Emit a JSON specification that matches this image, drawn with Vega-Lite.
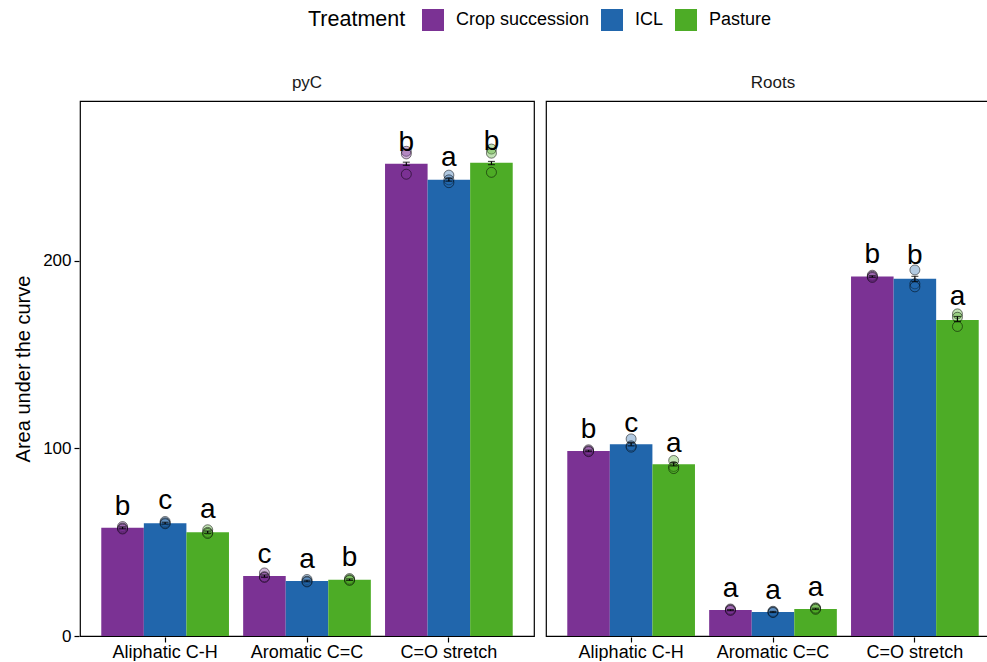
{
  "$schema": "https://vega.github.io/schema/vega-lite/v6.json",
  "padding": {"left": 13, "top": 9, "right": 0, "bottom": 0},
  "data": {"values": [
    {"kind": "s", "panel": "pyC", "band": "Aliphatic C-H", "treatment": "Crop succession", "mean": 57.6, "lo": 57.1, "hi": 58.1, "letter": "b", "ly": 64.4},
    {"kind": "s", "panel": "pyC", "band": "Aliphatic C-H", "treatment": "ICL", "mean": 60.1, "lo": 59.6, "hi": 60.6, "letter": "c", "ly": 67.9},
    {"kind": "s", "panel": "pyC", "band": "Aliphatic C-H", "treatment": "Pasture", "mean": 55.3, "lo": 54.7, "hi": 55.9, "letter": "a", "ly": 62.6},
    {"kind": "s", "panel": "pyC", "band": "Aromatic C=C", "treatment": "Crop succession", "mean": 31.9, "lo": 31.3, "hi": 32.5, "letter": "c", "ly": 38.7},
    {"kind": "s", "panel": "pyC", "band": "Aromatic C=C", "treatment": "ICL", "mean": 29.3, "lo": 28.9, "hi": 29.7, "letter": "a", "ly": 36.0},
    {"kind": "s", "panel": "pyC", "band": "Aromatic C=C", "treatment": "Pasture", "mean": 30.0, "lo": 29.6, "hi": 30.4, "letter": "b", "ly": 37.2},
    {"kind": "s", "panel": "pyC", "band": "C=O stretch", "treatment": "Crop succession", "mean": 251.6, "lo": 250.7, "hi": 252.4, "letter": "b", "ly": 258.5},
    {"kind": "s", "panel": "pyC", "band": "C=O stretch", "treatment": "ICL", "mean": 243.1, "lo": 242.3, "hi": 243.9, "letter": "a", "ly": 250.5},
    {"kind": "s", "panel": "pyC", "band": "C=O stretch", "treatment": "Pasture", "mean": 252.1, "lo": 251.1, "hi": 252.8, "letter": "b", "ly": 258.9},
    {"kind": "s", "panel": "Roots", "band": "Aliphatic C-H", "treatment": "Crop succession", "mean": 98.6, "lo": 98.2, "hi": 99.0, "letter": "b", "ly": 105.7},
    {"kind": "s", "panel": "Roots", "band": "Aliphatic C-H", "treatment": "ICL", "mean": 102.1, "lo": 101.3, "hi": 102.9, "letter": "c", "ly": 108.7},
    {"kind": "s", "panel": "Roots", "band": "Aliphatic C-H", "treatment": "Pasture", "mean": 91.5, "lo": 90.6, "hi": 92.4, "letter": "a", "ly": 98.0},
    {"kind": "s", "panel": "Roots", "band": "Aromatic C=C", "treatment": "Crop succession", "mean": 13.8, "lo": 13.5, "hi": 14.1, "letter": "a", "ly": 20.9},
    {"kind": "s", "panel": "Roots", "band": "Aromatic C=C", "treatment": "ICL", "mean": 12.8, "lo": 12.5, "hi": 13.1, "letter": "a", "ly": 19.5},
    {"kind": "s", "panel": "Roots", "band": "Aromatic C=C", "treatment": "Pasture", "mean": 14.4, "lo": 14.1, "hi": 14.8, "letter": "a", "ly": 21.3},
    {"kind": "s", "panel": "Roots", "band": "C=O stretch", "treatment": "Crop succession", "mean": 191.5, "lo": 191.1, "hi": 191.9, "letter": "b", "ly": 198.6},
    {"kind": "s", "panel": "Roots", "band": "C=O stretch", "treatment": "ICL", "mean": 190.3, "lo": 188.9, "hi": 191.6, "letter": "b", "ly": 198.2},
    {"kind": "s", "panel": "Roots", "band": "C=O stretch", "treatment": "Pasture", "mean": 168.4, "lo": 167.6, "hi": 170.2, "letter": "a", "ly": 176.1},

    {"kind": "p", "panel": "pyC", "band": "Aliphatic C-H", "treatment": "Crop succession", "value": 58.3},
    {"kind": "p", "panel": "pyC", "band": "Aliphatic C-H", "treatment": "Crop succession", "value": 57.5},
    {"kind": "p", "panel": "pyC", "band": "Aliphatic C-H", "treatment": "Crop succession", "value": 57.0},
    {"kind": "p", "panel": "pyC", "band": "Aliphatic C-H", "treatment": "ICL", "value": 61.0},
    {"kind": "p", "panel": "pyC", "band": "Aliphatic C-H", "treatment": "ICL", "value": 60.3},
    {"kind": "p", "panel": "pyC", "band": "Aliphatic C-H", "treatment": "ICL", "value": 59.8},
    {"kind": "p", "panel": "pyC", "band": "Aliphatic C-H", "treatment": "Pasture", "value": 56.6},
    {"kind": "p", "panel": "pyC", "band": "Aliphatic C-H", "treatment": "Pasture", "value": 55.2},
    {"kind": "p", "panel": "pyC", "band": "Aliphatic C-H", "treatment": "Pasture", "value": 54.6},
    {"kind": "p", "panel": "pyC", "band": "Aromatic C=C", "treatment": "Crop succession", "value": 33.6},
    {"kind": "p", "panel": "pyC", "band": "Aromatic C=C", "treatment": "Crop succession", "value": 31.6},
    {"kind": "p", "panel": "pyC", "band": "Aromatic C=C", "treatment": "Crop succession", "value": 31.2},
    {"kind": "p", "panel": "pyC", "band": "Aromatic C=C", "treatment": "ICL", "value": 30.1},
    {"kind": "p", "panel": "pyC", "band": "Aromatic C=C", "treatment": "ICL", "value": 29.2},
    {"kind": "p", "panel": "pyC", "band": "Aromatic C=C", "treatment": "ICL", "value": 28.8},
    {"kind": "p", "panel": "pyC", "band": "Aromatic C=C", "treatment": "Pasture", "value": 30.6},
    {"kind": "p", "panel": "pyC", "band": "Aromatic C=C", "treatment": "Pasture", "value": 30.0},
    {"kind": "p", "panel": "pyC", "band": "Aromatic C=C", "treatment": "Pasture", "value": 29.6},
    {"kind": "p", "panel": "pyC", "band": "C=O stretch", "treatment": "Crop succession", "value": 258.2},
    {"kind": "p", "panel": "pyC", "band": "C=O stretch", "treatment": "Crop succession", "value": 256.8},
    {"kind": "p", "panel": "pyC", "band": "C=O stretch", "treatment": "Crop succession", "value": 246.0},
    {"kind": "p", "panel": "pyC", "band": "C=O stretch", "treatment": "ICL", "value": 245.5},
    {"kind": "p", "panel": "pyC", "band": "C=O stretch", "treatment": "ICL", "value": 243.0},
    {"kind": "p", "panel": "pyC", "band": "C=O stretch", "treatment": "ICL", "value": 241.5},
    {"kind": "p", "panel": "pyC", "band": "C=O stretch", "treatment": "Pasture", "value": 259.4},
    {"kind": "p", "panel": "pyC", "band": "C=O stretch", "treatment": "Pasture", "value": 257.2},
    {"kind": "p", "panel": "pyC", "band": "C=O stretch", "treatment": "Pasture", "value": 247.0},
    {"kind": "p", "panel": "Roots", "band": "Aliphatic C-H", "treatment": "Crop succession", "value": 99.2},
    {"kind": "p", "panel": "Roots", "band": "Aliphatic C-H", "treatment": "Crop succession", "value": 98.6},
    {"kind": "p", "panel": "Roots", "band": "Aliphatic C-H", "treatment": "Crop succession", "value": 98.2},
    {"kind": "p", "panel": "Roots", "band": "Aliphatic C-H", "treatment": "ICL", "value": 105.0},
    {"kind": "p", "panel": "Roots", "band": "Aliphatic C-H", "treatment": "ICL", "value": 101.3},
    {"kind": "p", "panel": "Roots", "band": "Aliphatic C-H", "treatment": "ICL", "value": 100.6},
    {"kind": "p", "panel": "Roots", "band": "Aliphatic C-H", "treatment": "Pasture", "value": 93.5},
    {"kind": "p", "panel": "Roots", "band": "Aliphatic C-H", "treatment": "Pasture", "value": 90.3},
    {"kind": "p", "panel": "Roots", "band": "Aliphatic C-H", "treatment": "Pasture", "value": 89.2},
    {"kind": "p", "panel": "Roots", "band": "Aromatic C=C", "treatment": "Crop succession", "value": 14.4},
    {"kind": "p", "panel": "Roots", "band": "Aromatic C=C", "treatment": "Crop succession", "value": 14.0},
    {"kind": "p", "panel": "Roots", "band": "Aromatic C=C", "treatment": "Crop succession", "value": 13.6},
    {"kind": "p", "panel": "Roots", "band": "Aromatic C=C", "treatment": "ICL", "value": 13.2},
    {"kind": "p", "panel": "Roots", "band": "Aromatic C=C", "treatment": "ICL", "value": 12.8},
    {"kind": "p", "panel": "Roots", "band": "Aromatic C=C", "treatment": "ICL", "value": 12.5},
    {"kind": "p", "panel": "Roots", "band": "Aromatic C=C", "treatment": "Pasture", "value": 15.0},
    {"kind": "p", "panel": "Roots", "band": "Aromatic C=C", "treatment": "Pasture", "value": 14.7},
    {"kind": "p", "panel": "Roots", "band": "Aromatic C=C", "treatment": "Pasture", "value": 14.2},
    {"kind": "p", "panel": "Roots", "band": "C=O stretch", "treatment": "Crop succession", "value": 192.2},
    {"kind": "p", "panel": "Roots", "band": "C=O stretch", "treatment": "Crop succession", "value": 191.6},
    {"kind": "p", "panel": "Roots", "band": "C=O stretch", "treatment": "Crop succession", "value": 191.0},
    {"kind": "p", "panel": "Roots", "band": "C=O stretch", "treatment": "ICL", "value": 195.0},
    {"kind": "p", "panel": "Roots", "band": "C=O stretch", "treatment": "ICL", "value": 187.6},
    {"kind": "p", "panel": "Roots", "band": "C=O stretch", "treatment": "ICL", "value": 186.0},
    {"kind": "p", "panel": "Roots", "band": "C=O stretch", "treatment": "Pasture", "value": 171.6},
    {"kind": "p", "panel": "Roots", "band": "C=O stretch", "treatment": "Pasture", "value": 169.8},
    {"kind": "p", "panel": "Roots", "band": "C=O stretch", "treatment": "Pasture", "value": 164.9}
  ]},
  "facet": {"column": {"field": "panel", "type": "nominal", "sort": ["pyC", "Roots"],
    "header": {"title": null, "labelFontSize": 17, "labelPadding": 8, "labelColor": "#1a1a1a", "labelFont": "Liberation Sans"}}},
  "spacing": 10,
  "spec": {
    "width": 454,
    "height": 535,
    "encoding": {
      "x": {"field": "band", "type": "nominal", "sort": ["Aliphatic C-H", "Aromatic C=C", "C=O stretch"],
        "scale": {"paddingInner": 0.1, "paddingOuter": 0.15},
        "axis": {"title": null, "labelAngle": 0, "labelFontSize": 18, "labelColor": "black", "labelPadding": 1, "tickSize": 5, "tickColor": "black", "tickWidth": 1.2, "domain": false}},
      "xOffset": {"field": "treatment", "type": "nominal", "sort": ["Crop succession", "ICL", "Pasture"],
        "scale": {"paddingInner": 0, "paddingOuter": 0}}
    },
    "layer": [
      {
        "transform": [{"filter": "datum.kind === 's'"}],
        "mark": {"type": "bar"},
        "encoding": {
          "y": {"field": "mean", "type": "quantitative", "title": "Area under the curve",
            "scale": {"domain": [0, 285], "nice": false, "zero": true},
            "axis": {"values": [0, 100, 200], "grid": false, "domain": false, "tickSize": 5, "tickColor": "black", "tickWidth": 1.2, "labelFontSize": 17, "labelColor": "black", "labelPadding": 3, "titleFontSize": 20, "titleFontWeight": "normal", "titleColor": "black", "titlePadding": 9}},
          "color": {"field": "treatment", "type": "nominal", "sort": ["Crop succession", "ICL", "Pasture"],
            "scale": {"domain": ["Crop succession", "ICL", "Pasture"], "range": ["#7B3294", "#2166AC", "#4DAC26"]},
            "legend": {"orient": "none", "legendX": 228, "legendY": -92, "direction": "horizontal", "title": "Treatment", "titleOrient": "left", "titleFontSize": 21.5, "titleFontWeight": "normal", "titleColor": "black", "titlePadding": 16, "labelFontSize": 18, "labelColor": "black", "labelOffset": 12, "symbolType": "square", "symbolSize": 484, "symbolStrokeWidth": 0, "symbolOpacity": 1, "columnPadding": 11}}
        }
      },
      {
        "transform": [{"filter": "datum.kind === 'p'"}],
        "mark": {"type": "circle", "size": 100, "fillOpacity": 0.35, "stroke": "black", "strokeOpacity": 0.5, "strokeWidth": 1},
        "encoding": {
          "y": {"field": "value", "type": "quantitative"},
          "fill": {"field": "treatment", "type": "nominal",
            "scale": {"domain": ["Crop succession", "ICL", "Pasture"], "range": ["#7B3294", "#2166AC", "#4DAC26"]},
            "legend": null}
        }
      },
      {
        "transform": [{"filter": "datum.kind === 's'"}],
        "mark": {"type": "rule", "color": "black", "strokeWidth": 1.2},
        "encoding": {
          "y": {"field": "lo", "type": "quantitative"},
          "y2": {"field": "hi"}
        }
      },
      {
        "transform": [{"filter": "datum.kind === 's'"}],
        "mark": {"type": "tick", "color": "black", "size": 7, "thickness": 1.2},
        "encoding": {"y": {"field": "lo", "type": "quantitative"}}
      },
      {
        "transform": [{"filter": "datum.kind === 's'"}],
        "mark": {"type": "tick", "color": "black", "size": 7, "thickness": 1.2},
        "encoding": {"y": {"field": "hi", "type": "quantitative"}}
      },
      {
        "transform": [{"filter": "datum.kind === 's'"}],
        "mark": {"type": "text", "fontSize": 28, "baseline": "alphabetic", "align": "center", "color": "black"},
        "encoding": {
          "y": {"field": "ly", "type": "quantitative"},
          "text": {"field": "letter"}
        }
      }
    ]
  },
  "config": {
    "font": "Liberation Sans",
    "view": {"stroke": "black", "strokeWidth": 1.2},
    "axis": {"labelFont": "Liberation Sans", "titleFont": "Liberation Sans"},
    "legend": {"labelFont": "Liberation Sans", "titleFont": "Liberation Sans"}
  }
}
